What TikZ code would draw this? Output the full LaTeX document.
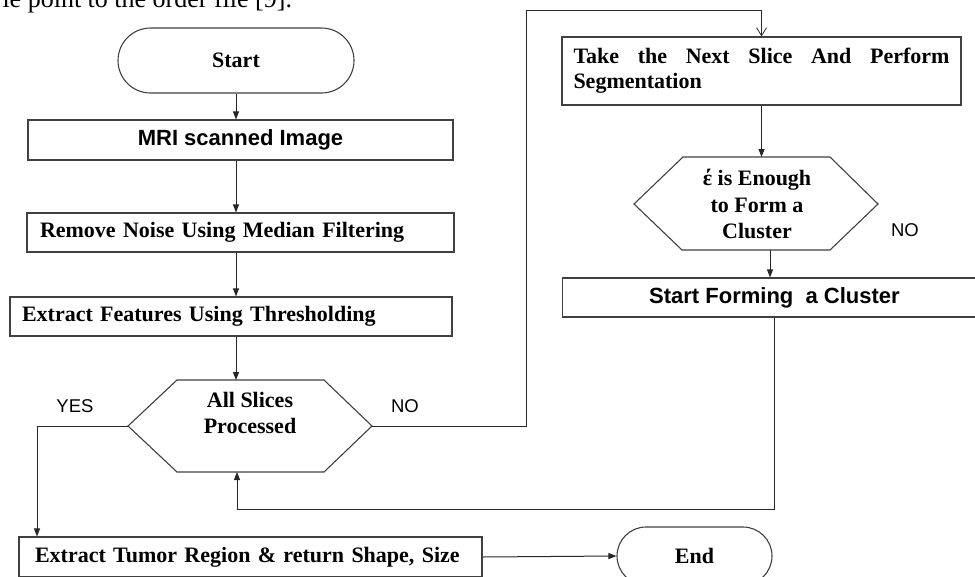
\documentclass[tikz,border=0pt]{standalone}
\usepackage{fontspec}
\setmainfont{Liberation Serif}
\setsansfont{Liberation Sans}
\usetikzlibrary{arrows.meta}
\begin{document}
\begin{tikzpicture}[x=1pt,y=-1pt,
  line width=1pt,
  outline/.style={draw=black!75, line width=1.1pt},
  box/.style={outline, inner sep=0pt, minimum height=40pt},
  term/.style={outline, inner sep=0pt},
  serifb/.style={font=\bfseries\fontsize{22}{26.5}\selectfont},
  sansb/.style={font=\sffamily\bfseries\fontsize{22}{26}\selectfont},
  lab/.style={font=\sffamily\fontsize{18.5}{22}\selectfont, inner sep=0pt},
  arr/.style={draw=black!85, -{Triangle[length=8pt,width=6pt]}},
  barb/.style={draw=black!85, -{Straight Barb[length=8pt,width=10pt,line width=0.8pt]}}]

\useasboundingbox (0,0) rectangle (975,576);
\clip (0,0) rectangle (975,576);

% running text above the chart
\node[anchor=base west, inner sep=0pt, font=\fontsize{26}{30}\selectfont] (caption) at (2,7) {le point to the order file [9].};

% left column
\node[term, serifb, minimum width=236pt, minimum height=65pt, rounded corners=32.5pt] (start) at (236,60.5) {Start};
\node[box, sansb, minimum width=425pt] (mri) at (240.5,140) {MRI scanned Image};
\node[box, serifb, minimum height=39pt, text width=401pt, inner xsep=13pt, align=left] (remove) at (240.5,232.5) {Remove Noise Using Median Filtering};
\node[box, serifb, minimum height=39pt, text width=418pt, inner xsep=12pt, align=left] (feat) at (231,316.5) {Extract Features Using Thresholding};

% decision: all slices processed
\draw[outline] (177,380) -- (324,380) -- (372,426) -- (324,472) -- (177,472) -- (128,426) -- cycle;
\node[serifb, align=center, inner sep=0pt] (slices) at (250,413) {All Slices\\Processed};
\coordinate (hAn) at (236,380);
\coordinate (hAw) at (128,426);
\coordinate (hAe) at (372,426);
\coordinate (hAs) at (237,472);

% right column
\node[box, minimum height=68pt, text width=376pt, inner xsep=11.5pt, align=left, font=\bfseries\fontsize{22}{25}\selectfont] (take) at (761.5,71) {\hbox to 376pt{Take\hfill the\hfill Next\hfill Slice\hfill And\hfill Perform}\\Segmentation};

% decision: enough points for a cluster
\draw[outline] (683,157) -- (830,157) -- (878,204) -- (830,250) -- (682,250) -- (634,204) -- cycle;
\node[serifb, align=center, inner sep=0pt] (enough) at (757,204) {έ is Enough\\to Form a\\Cluster};
\coordinate (hBn) at (761.5,157);
\coordinate (hBs) at (770,250);

\node[box, sansb, minimum width=424pt, minimum height=39pt] (form) at (774.5,297.5) {Start Forming\ \ a Cluster};

% bottom row
\node[box, serifb, text width=431pt, inner xsep=16pt, align=left] (tumor) at (250.5,557) {Extract Tumor Region \& return Shape, Size};
\node[term, serifb, minimum width=155pt, minimum height=58pt, rounded corners=29pt] (stop) at (694.5,556) {End};

% labels
\node[lab] (yes) at (75,406) {YES};
\node[lab] (noA) at (405,406) {NO};
\node[lab] (noB) at (905,230) {NO};

% connectors
\coordinate (noTop) at (526,10);
\coordinate (loop) at (237,509);
\coordinate (yesTurn) at (37,426);

\draw[arr] (start.south) -- (start.south |- mri.north);
\draw[arr] (start.south |- mri.south) -- (start.south |- remove.north);
\draw[arr] (start.south |- remove.south) -- (start.south |- feat.north);
\draw[arr] (start.south |- feat.south) -- (hAn);
\draw[barb] (hAe) -| (noTop) -| (take.north);
\draw[arr] (take.south) -- (hBn);
\draw[arr] (hBs) -- (hBs |- form.north);
\draw[arr] (form.south) |- (loop) -- (hAs);
\draw[arr] (hAw) -- (yesTurn) -- (yesTurn |- tumor.north);
\draw[arr] (tumor.east) -- (stop.west);
\end{tikzpicture}
\end{document}
